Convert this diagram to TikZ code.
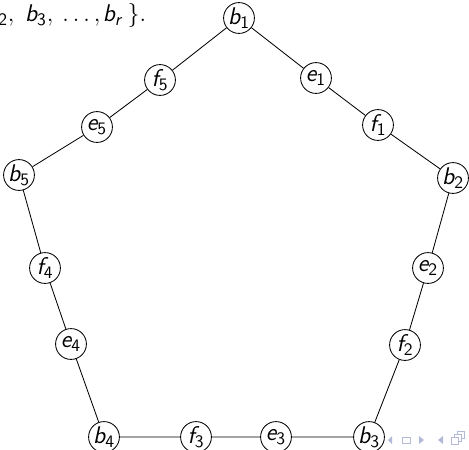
\documentclass[tikz,border=0pt]{standalone}
\usepackage{fontspec}
\newcommand\subtx[1]{\mbox{\fontsize{10.5}{12}\selectfont\sffamily #1}}
\newcommand\vx[2]{\ensuremath{\mbox{\sffamily\itshape #1}_{\subtx{#2}}}}
\tikzset{
  mainfont/.style={font=\fontsize{14.5}{17}\selectfont},
  vert/.style={draw, circle, line width=0.5pt, inner sep=0pt, minimum size=18.5pt, mainfont},
  edge/.style={line width=0.5pt},
  nav/.style={fill=navc, draw=none}
}
\definecolor{navc}{RGB}{178,186,216}
\begin{document}
\begin{tikzpicture}[x=0.6pt,y=-0.6pt]
\useasboundingbox (0,0) rectangle (469,449);
\node[anchor=base west, inner sep=0pt, mainfont] (top) at (-2,21.5)
  {$\mbox{}_{\subtx{2}},\kern4pt\mbox{\sffamily\itshape b}_{\subtx{3}},\kern3pt\ldots,\kern-1pt\mbox{\sffamily\itshape b}_{\subtx{\itshape r}}\kern3.5pt\}.$};
\node[vert] (b1) at (239,18) {\vx{b}{1}};
\node[vert] (e1) at (316,78) {\vx{e}{1}};
\node[vert] (f1) at (378,125) {\vx{f}{1}};
\node[vert] (b2) at (453,178) {\vx{b}{2}};
\node[vert] (e2) at (428,268) {\vx{e}{2}};
\node[vert] (f2) at (405,345) {\vx{f}{2}};
\node[vert] (b3) at (369,437) {\vx{b}{3}};
\node[vert] (e3) at (276,437) {\vx{e}{3}};
\node[vert] (f3) at (196,437) {\vx{f}{3}};
\node[vert] (b4) at (104,437) {\vx{b}{4}};
\node[vert] (e4) at (71,344) {\vx{e}{4}};
\node[vert] (f4) at (45,268) {\vx{f}{4}};
\node[vert] (b5) at (19,175) {\vx{b}{5}};
\node[vert] (e5) at (97,127) {\vx{e}{5}};
\node[vert] (f5) at (160,80) {\vx{f}{5}};
\draw[edge] (b1) -- (e1) -- (f1) -- (b2) -- (e2) -- (f2) -- (b3) -- (e3) -- (f3) -- (b4) -- (e4) -- (f4) -- (b5) -- (e5) -- (f5) -- (b1);
% navigation symbols
\fill[nav] (392,436) -- (388,440) -- (392,444) -- cycle;
\draw[navc, line width=0.6pt] (402,437) rectangle (410,443);
\fill[nav] (419,436) -- (424,440) -- (419,444) -- cycle;
\fill[nav] (443,436) -- (438,440) -- (443,444) -- cycle;
\draw[navc, line width=0.6pt] (451,437) rectangle (458,444);
\draw[navc, line width=0.6pt] (454,437) -- (454,434) -- (461,434) -- (461,441) -- (458,441);
\draw[navc, line width=0.6pt] (457,434) -- (457,431) -- (464,431) -- (464,438) -- (461,438);
\end{tikzpicture}
\end{document}
